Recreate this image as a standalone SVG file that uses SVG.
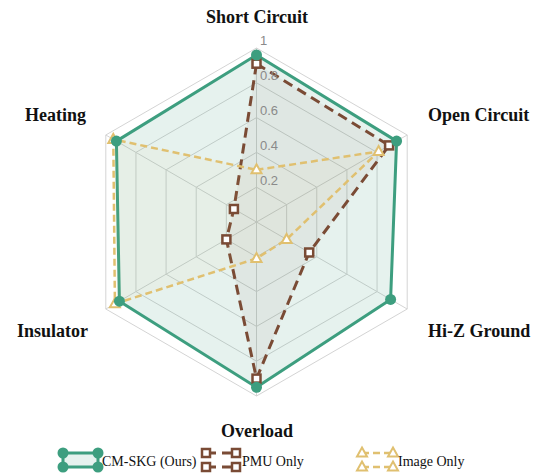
<svg xmlns="http://www.w3.org/2000/svg" xmlns:xlink="http://www.w3.org/1999/xlink" width="550" height="474" viewBox="0 0 550 474">
<style>
.grid{fill:none;stroke:#d4d4d4;stroke-width:1}
.axis{font-family:"Liberation Serif","Times New Roman",serif;font-weight:bold;font-size:18px;fill:#111}
.tick{font-family:"Liberation Sans",Arial,sans-serif;font-size:13px;fill:#8a8a8a}
.leg{font-family:"Liberation Serif","Times New Roman",serif;font-size:14px;fill:#111}
.g-line{fill:rgba(61,158,127,0.13);stroke:#3d9e7f;stroke-width:3;stroke-linejoin:round}
.p-line{fill:rgba(122,75,53,0.06);stroke:#7a4b35;stroke-width:3;stroke-dasharray:10 6}
.y-line{fill:rgba(227,192,108,0.05);stroke:#e0c070;stroke-width:2.5;stroke-dasharray:7 4}
.g-mk{fill:#3d9e7f}
.p-mk{fill:#fff;stroke:#7a4b35;stroke-width:2.5}
.y-mk{fill:#fff;stroke:#e0c070;stroke-width:2}
</style>
<defs>
<circle id="mg" r="5.5" class="g-mk"/>
<rect id="mp" x="-4" y="-4" width="8" height="8" class="p-mk"/>
<path id="my" d="M0,-5.5 L5,3.5 L-5,3.5 Z" class="y-mk"/>
</defs>
<g id="grid">
<polygon class="grid" points="256.5,48 407.19,135 407.19,309 256.5,396 105.81,309 105.81,135"/>
<polygon class="grid" points="256.5,82.8 377.05,152.4 377.05,291.6 256.5,361.2 135.95,291.6 135.95,152.4"/>
<polygon class="grid" points="256.5,117.6 346.91,169.8 346.91,274.2 256.5,326.4 166.09,274.2 166.09,169.8"/>
<polygon class="grid" points="256.5,152.4 316.78,187.2 316.78,256.8 256.5,291.6 196.22,256.8 196.22,187.2"/>
<polygon class="grid" points="256.5,187.2 286.64,204.6 286.64,239.4 256.5,256.8 226.36,239.4 226.36,204.6"/>
<path class="grid" d="M256.5,222 L256.5,48 M256.5,222 L407.19,135 M256.5,222 L407.19,309 M256.5,222 L256.5,396 M256.5,222 L105.81,309 M256.5,222 L105.81,135"/>
</g>
<g id="series">
<g id="cm-skg">
<polygon class="g-line" points="256.5,55 396.6,141.1 390.6,299.4 256.5,387.3 119.4,301.2 116.4,141.1"/>
</g>
<g id="pmu-only">
<polygon class="p-line" points="256.5,63.7 389.1,145.4 309.2,252.5 256.5,378.6 226.4,239.4 233.9,209 256.5,63.7"/>
</g>
<g id="image-only">
<polygon class="y-line" points="256.5,169.8 378.6,151.5 286.6,239.4 256.5,258.5 114.9,303.8 113.3,139.4"/>
</g>
<g id="markers">
<use href="#my" x="256.5" y="169.8"/><use href="#my" x="378.6" y="151.5"/><use href="#my" x="286.6" y="239.4"/><use href="#my" x="256.5" y="258.5"/><use href="#my" x="114.9" y="303.8"/><use href="#my" x="113.3" y="139.4"/>
<use href="#mp" x="256.5" y="63.7"/><use href="#mp" x="389.1" y="145.4"/><use href="#mp" x="309.2" y="252.5"/><use href="#mp" x="256.5" y="378.6"/><use href="#mp" x="226.4" y="239.4"/><use href="#mp" x="233.9" y="209"/>
<use href="#mg" x="256.5" y="55"/><use href="#mg" x="396.6" y="141.1"/><use href="#mg" x="390.6" y="299.4"/><use href="#mg" x="256.5" y="387.3"/><use href="#mg" x="119.4" y="301.2"/><use href="#mg" x="116.4" y="141.1"/>
</g>
</g>
<g id="ticks">
<text class="tick" x="260" y="45">1</text>
<text class="tick" x="260" y="80">0.8</text>
<text class="tick" x="260" y="115">0.6</text>
<text class="tick" x="260" y="150">0.4</text>
<text class="tick" x="260" y="185">0.2</text>
</g>
<g id="axis-labels">
<text class="axis" x="257" y="23" text-anchor="middle">Short Circuit</text>
<text class="axis" x="428" y="121">Open Circuit</text>
<text class="axis" x="428" y="337">Hi-Z Ground</text>
<text class="axis" x="257" y="437" text-anchor="middle">Overload</text>
<text class="axis" x="88" y="337" text-anchor="end">Insulator</text>
<text class="axis" x="86" y="121" text-anchor="end">Heating</text>
</g>
<g id="legend">
<g id="leg-cm">
<rect x="63" y="453" width="35" height="14" class="g-line"/>
<use href="#mg" x="63" y="453"/><use href="#mg" x="98" y="453"/><use href="#mg" x="63" y="467"/><use href="#mg" x="98" y="467"/>
<text class="leg" x="102" y="466">CM-SKG (Ours)</text>
</g>
<g id="leg-pmu">
<path d="M206,453 H236 M206,467 H236" class="p-line" fill="none"/>
<use href="#mp" x="206" y="453"/><use href="#mp" x="236" y="467"/><use href="#mp" x="206" y="467"/><use href="#mp" x="236" y="453"/>
<text class="leg" x="242" y="466">PMU Only</text>
</g>
<g id="leg-img">
<path d="M362,453 H393 M362,467 H393" class="y-line" fill="none"/>
<use href="#my" x="362" y="453"/><use href="#my" x="393" y="453"/><use href="#my" x="362" y="467"/><use href="#my" x="393" y="467"/>
<text class="leg" x="398" y="466">Image Only</text>
</g>
</g>
</svg>
